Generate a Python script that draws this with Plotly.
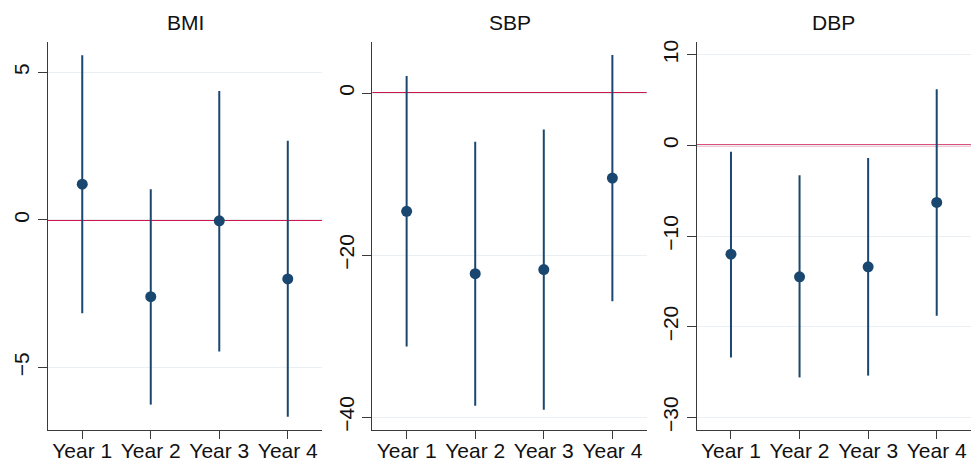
import plotly.graph_objects as go
from plotly.subplots import make_subplots

years = ["Year 1", "Year 2", "Year 3", "Year 4"]
year_pos = [1, 2, 3, 4]

bmi_est = [1.21, -2.60, -0.03, -2.00]
bmi_lo = [-3.16, -6.26, -4.46, -6.67]
bmi_hi = [5.58, 1.04, 4.37, 2.68]

sbp_est = [-14.6, -22.3, -21.8, -10.5]
sbp_lo = [-31.3, -38.6, -39.1, -25.7]
sbp_hi = [2.1, -6.0, -4.5, 4.7]

dbp_est = [-12.0, -14.5, -13.4, -6.3]
dbp_lo = [-23.4, -25.6, -25.4, -18.8]
dbp_hi = [-0.7, -3.3, -1.4, 6.2]

titles = ["BMI", "SBP", "DBP"]
series = [(bmi_est, bmi_lo, bmi_hi), (sbp_est, sbp_lo, sbp_hi), (dbp_est, dbp_lo, dbp_hi)]
yranges = [[-7.12, 6.03], [-41.6, 6.3], [-31.4, 11.4]]
yticks = [[-5, 0, 5], [-40, -20, 0], [-30, -20, -10, 0, 10]]

NAVY = "#1a476f"
RED = "#d0154a"
AXIS = "#3a3a3a"
GRID = "#e9eff2"
FONT = "Liberation Sans, Arial, sans-serif"

fig = make_subplots(rows=1, cols=3)
domains = [[0.0, 0.2969], [0.3514, 0.6486], [0.7028, 1.0]]

for i, ((est, lo, hi), title) in enumerate(zip(series, titles)):
    col = i + 1
    plus = [h - e for h, e in zip(hi, est)]
    minus = [e - l for e, l in zip(est, lo)]
    fig.add_trace(go.Scatter(
        x=year_pos, y=est, mode="markers",
        marker=dict(color=NAVY, size=11),
        error_y=dict(type="data", array=plus, arrayminus=minus, symmetric=False,
                     color=NAVY, thickness=2, width=0),
        showlegend=False), row=1, col=col)
    fig.add_hline(y=0, line=dict(color=RED, width=2), row=1, col=col, layer="below")
    xa = "xaxis" if i == 0 else f"xaxis{col}"
    ya = "yaxis" if i == 0 else f"yaxis{col}"
    fig.layout[xa].update(
        domain=domains[i], range=[0.5, 4.5], tickvals=year_pos, ticktext=years,
        showgrid=False, zeroline=False, showline=True, linecolor=AXIS, linewidth=1.3,
        ticks="outside", ticklen=8, tickcolor=AXIS, tickwidth=1.3,
        ticklabelstandoff=-6,
        tickfont=dict(size=21, color="#111", family=FONT), automargin=False)
    fig.layout[ya].update(
        domain=[0, 1], range=yranges[i], tickvals=yticks[i],
        showgrid=True, gridcolor=GRID, gridwidth=1.2, zeroline=False,
        showline=True, linecolor=AXIS, linewidth=1.3,
        ticks="outside", ticklen=9, tickcolor=AXIS, tickwidth=1.3, tickangle=-90,
        tickfont=dict(size=21, color="#111", family=FONT), automargin=False)
    fig.add_annotation(text=title, xref=f"x{'' if i == 0 else col} domain", x=0.5,
                       yref="paper", y=1.049, yanchor="middle", showarrow=False,
                       font=dict(size=21, color="#111", family=FONT))

fig.update_layout(
    width=971, height=462,
    margin=dict(l=48, r=0, t=42, b=32),
    plot_bgcolor="white", paper_bgcolor="white",
    font=dict(family=FONT),
)

fig.write_html("out.html", config={"displayModeBar": False},
               post_script="document.body.style.margin='0';document.body.style.overflow='hidden';")
